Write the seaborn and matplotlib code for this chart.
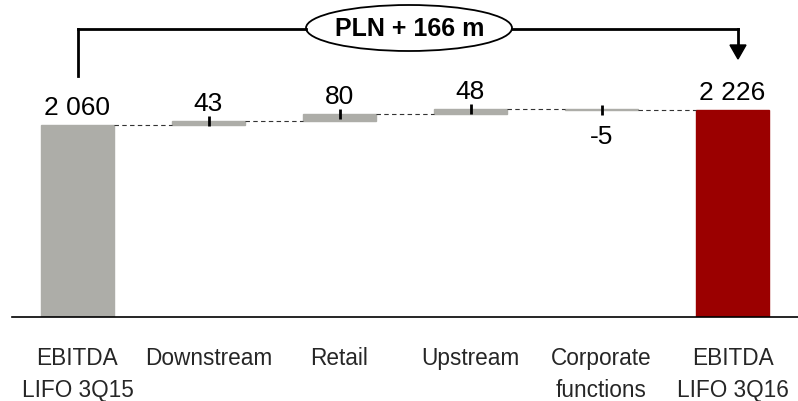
import numpy as np
import pandas as pd
import matplotlib
matplotlib.use("Agg")
import matplotlib.pyplot as plt
import seaborn as sns
from matplotlib import font_manager as fm
from matplotlib.lines import Line2D
from matplotlib.patches import Ellipse, Polygon

# ---------------- data ----------------
categories = ["EBITDA\nLIFO 3Q15", "Downstream", "Retail", "Upstream",
              "Corporate\nfunctions", "EBITDA\nLIFO 3Q16"]
values = [2060, 43, 80, 48, -5, 2226]
is_total = [True, False, False, False, False, True]
bridge_label = "PLN + 166 m"

GRAY = "#ADADA8"
RED = "#9B0000"

# ---------------- waterfall geometry from data ----------------
bottoms, heights, ends = [], [], []
running = 0
for v, t in zip(values, is_total):
    if t:
        bottoms.append(0)
        heights.append(v)
        running = v
    else:
        start = running
        running = running + v
        bottoms.append(min(start, running))
        heights.append(abs(v))
    ends.append(running)

sns.set_style("white")
names = {f.name for f in fm.fontManager.ttflist}
NARROW = "Liberation Sans Narrow" in names
FONT = "Liberation Sans Narrow" if NARROW else "Liberation Sans"
plt.rcParams["font.family"] = [FONT, "DejaVu Sans"]
TICK_FS = 17.5 if NARROW else 16.3
VAL_FS = 20 if NARROW else 19
BR_FS = 19 if NARROW else 18
LINESP = 1.5

W, H = 798, 401
fig = plt.figure(figsize=(W / 100, H / 100), dpi=100)
AX_BOTTOM_PX = 316.5
ax = fig.add_axes([12 / W, (H - AX_BOTTOM_PX) / H, (W - 12) / W, AX_BOTTOM_PX / H])

df = pd.DataFrame({"category": categories, "height": heights})
BAR_W = 0.56
sns.barplot(data=df, x="category", y="height", order=categories,
            bottom=bottoms, width=BAR_W, color=GRAY, saturation=1,
            errorbar=None, edgecolor=GRAY, linewidth=1.0, ax=ax)
ax.patches[len(categories) - 1].set_facecolor(RED)
ax.patches[len(categories) - 1].set_edgecolor(RED)

ax.set_ylim(0, 3405)
ax.set_xlim(-0.5, -0.5 + (W - 12) / 132)

# connectors
for i in range(len(categories) - 1):
    ax.plot([i + BAR_W / 2, i + 1 - BAR_W / 2], [ends[i], ends[i]],
            ls=(0, (4, 3)), color="#333333", lw=0.8)

# small markers at cumulative end of each change bar
for i, t in enumerate(is_total):
    if not t:
        ax.plot([i], [ends[i]], marker="|", ms=7, mew=2, color="black", ls="none")

# value labels
for i, (v, t) in enumerate(zip(values, is_total)):
    txt = f"{v:,}".replace(",", " ")
    if v >= 0:
        y = bottoms[i] + heights[i]
        ax.annotate(txt, (i, y), xytext=(0, 7), textcoords="offset points",
                    ha="center", va="baseline", fontsize=VAL_FS, color="black")
    else:
        y = bottoms[i]
        ax.annotate(txt, (i, y), xytext=(0, -24.5), textcoords="offset points",
                    ha="center", va="baseline", fontsize=VAL_FS, color="black")

# axes styling
for s in ["left", "right", "top"]:
    ax.spines[s].set_visible(False)
ax.spines["bottom"].set_color("black")
ax.spines["bottom"].set_linewidth(1.2)
ax.set_yticks([])
ax.set_xlabel("")
ax.set_ylabel("")
ax.set_xticks(range(len(categories)))
ax.set_xticklabels(categories, fontsize=TICK_FS, linespacing=LINESP)
ax.set_xticks(np.arange(-0.5, len(categories) + 0.5, 1), minor=True)
ax.tick_params(axis="x", which="major", length=0, pad=22)
ax.tick_params(axis="x", which="minor", length=6, width=1.2, color="black", direction="out")

# bracket annotation (figure pixel coords measured from top)
def P(x, y):
    return (x / W, 1 - y / H)

LW = 2.0
xl, xr, yb = 78, 738, 29
ex, ey, ew, eh = 409, 28, 206, 46
for (x0, y0), (x1, y1) in [((xl, 76), (xl, yb)), ((xl, yb), (ex - ew / 2, yb)),
                           ((ex + ew / 2, yb), (xr, yb)), ((xr, yb), (xr, 46))]:
    a, b = P(x0, y0), P(x1, y1)
    fig.add_artist(Line2D([a[0], b[0]], [a[1], b[1]], color="black", lw=LW,
                          transform=fig.transFigure, solid_capstyle="projecting"))
fig.add_artist(Polygon([P(xr - 8, 45), P(xr + 8, 45), P(xr, 59)], closed=True,
                       facecolor="black", edgecolor="black", transform=fig.transFigure))
fig.add_artist(Ellipse(P(ex, ey), ew / W, eh / H, facecolor="white", edgecolor="black",
                       lw=1.3, transform=fig.transFigure))
fig.text(*P(ex + 1, ey + 1), bridge_label, ha="center", va="center",
         fontsize=BR_FS, fontweight="bold", color="black")

fig.savefig("out.png", dpi=100)
